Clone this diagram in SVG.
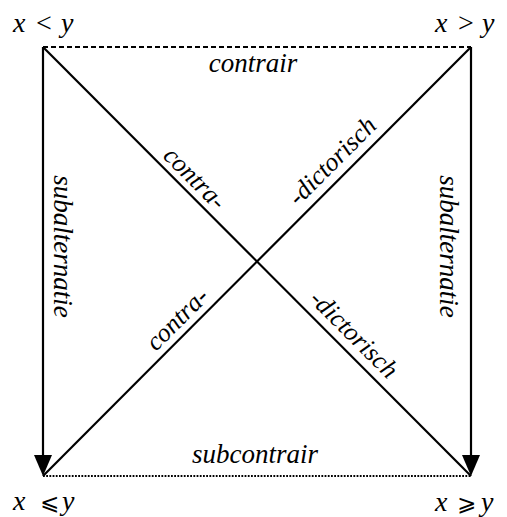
<svg xmlns="http://www.w3.org/2000/svg" width="507" height="517" viewBox="0 0 507 517">
<defs>
<path id="ah" d="M-9,-21 L9,-21 L0,0 Z"/>
</defs>
<rect width="507" height="517" fill="#fff"/>
<g id="connectors" stroke="#000" stroke-width="2.2" fill="none">
<line x1="43" y1="47" x2="471" y2="47" stroke-dasharray="5 3"/>
<line x1="43" y1="476" x2="471" y2="476" stroke-dasharray="1.8 1.4" stroke-width="2"/>
<line x1="43" y1="47" x2="43" y2="458"/>
<line x1="471" y1="47" x2="471" y2="458"/>
<line x1="43" y1="47" x2="471" y2="476"/>
<line x1="471" y1="47" x2="43" y2="476"/>
<use href="#ah" x="43" y="476" fill="#000" stroke="none"/>
<use href="#ah" x="471" y="476" fill="#000" stroke="none"/>
</g>
<g id="labels">
<text font-family="Liberation Serif" font-style="italic" font-size="27" x="253" y="72" text-anchor="middle">contrair</text>
<text font-family="Liberation Serif" font-style="italic" font-size="27" x="255" y="463" text-anchor="middle">subcontrair</text>
<text font-family="Liberation Serif" font-style="italic" font-size="27" transform="translate(54,246.5) rotate(90)" text-anchor="middle">subalternatie</text>
<text font-family="Liberation Serif" font-style="italic" font-size="27" transform="translate(440,246.5) rotate(90)" text-anchor="middle">subalternatie</text>
<text font-family="Liberation Serif" font-style="italic" font-size="26" transform="translate(189,184) rotate(45)" text-anchor="middle">contra-</text>
<text font-family="Liberation Serif" font-style="italic" font-size="26" transform="translate(338,167) rotate(-45)" text-anchor="middle">-dictorisch</text>
<text font-family="Liberation Serif" font-style="italic" font-size="26" transform="translate(183,325) rotate(-45)" text-anchor="middle">contra-</text>
<text font-family="Liberation Serif" font-style="italic" font-size="26" transform="translate(348,340) rotate(45)" text-anchor="middle">-dictorisch</text>
</g>
<g id="node-tl"><text font-family="Liberation Serif" font-size="28" y="32"><tspan font-style="italic" x="13">x</tspan><tspan x="36">&lt;</tspan><tspan font-style="italic" x="61">y</tspan></text></g>
<g id="node-tr"><text font-family="Liberation Serif" font-size="28" y="32"><tspan font-style="italic" x="435">x</tspan><tspan x="458">&gt;</tspan><tspan font-style="italic" x="482">y</tspan></text></g>
<g id="node-bl"><text font-family="Liberation Serif" font-size="28" y="510"><tspan font-style="italic" x="13">x</tspan><tspan font-family="DejaVu Sans" font-size="23" x="40">⩽</tspan><tspan font-style="italic" x="62">y</tspan></text></g>
<g id="node-br"><text font-family="Liberation Serif" font-size="28" y="511"><tspan font-style="italic" x="435">x</tspan><tspan font-family="DejaVu Sans" font-size="23" x="457">⩾</tspan><tspan font-style="italic" x="481">y</tspan></text></g>
</svg>
